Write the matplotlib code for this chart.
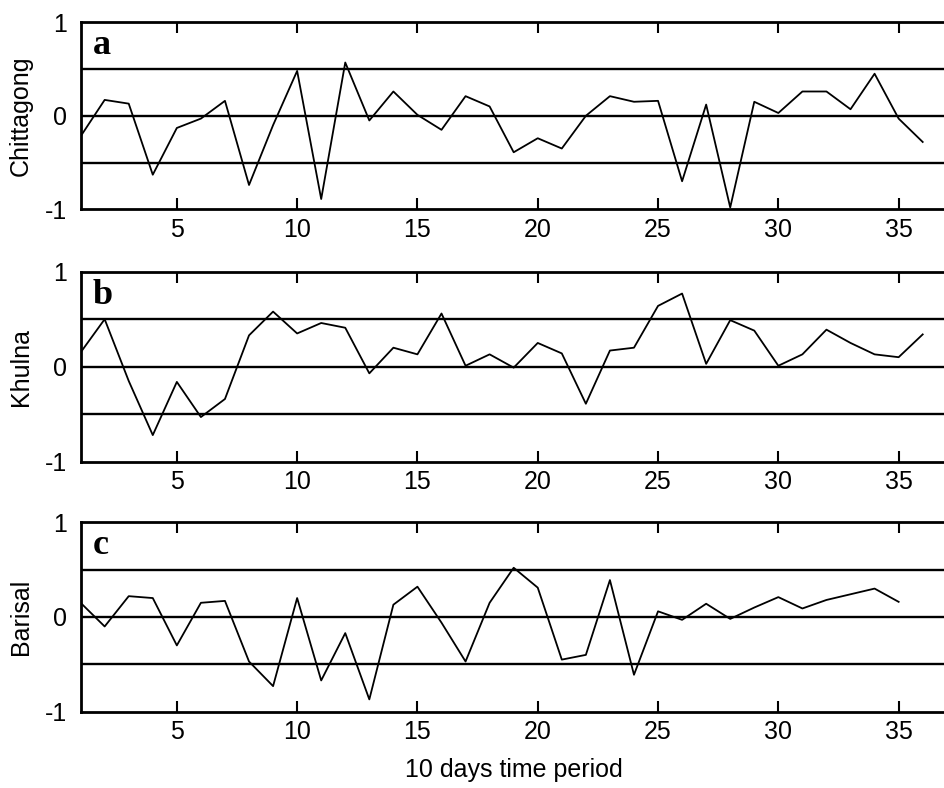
import matplotlib
matplotlib.use("Agg")
import matplotlib.pyplot as plt

periods_36 = list(range(1, 37))
periods_35 = list(range(1, 36))

chittagong = [-0.22, 0.17, 0.13, -0.63, -0.13, -0.03, 0.16, -0.74, -0.1, 0.48,
              -0.89, 0.57, -0.05, 0.26, 0.01, -0.15, 0.21, 0.1, -0.39, -0.24,
              -0.35, 0.0, 0.21, 0.15, 0.16, -0.7, 0.12, -0.98, 0.15, 0.03,
              0.26, 0.26, 0.07, 0.45, -0.03, -0.28]
khulna = [0.15, 0.5, -0.15, -0.72, -0.16, -0.53, -0.34, 0.33, 0.58, 0.35,
          0.46, 0.41, -0.07, 0.2, 0.13, 0.56, 0.01, 0.13, -0.01, 0.25,
          0.14, -0.39, 0.17, 0.2, 0.64, 0.77, 0.03, 0.49, 0.38, 0.01,
          0.13, 0.39, 0.25, 0.13, 0.1, 0.34]
barisal = [0.15, -0.1, 0.22, 0.2, -0.3, 0.15, 0.17, -0.47, -0.73, 0.2,
           -0.67, -0.17, -0.87, 0.13, 0.32, -0.06, -0.47, 0.15, 0.52, 0.31,
           -0.45, -0.4, 0.39, -0.61, 0.06, -0.03, 0.14, -0.02, 0.1, 0.21,
           0.09, 0.18, 0.24, 0.3, 0.16]

panels = [("a", "Chittagong", periods_36, chittagong),
          ("b", "Khulna", periods_36, khulna),
          ("c", "Barisal", periods_35, barisal)]
ref_levels = [-0.5, 0.0, 0.5]
xticks = [5, 10, 15, 20, 25, 30, 35]
yticks = [-1, 0, 1]
xlabel = "10 days time period"

plt.rcParams['font.family'] = ['Liberation Sans', 'DejaVu Sans']
plt.rcParams['axes.unicode_minus'] = False

fig = plt.figure(figsize=(9.45, 7.88), dpi=100)
W, H = 945.0, 788.0
left = 80.6 / W
width = 36 * 24.06 / W
boxes = [(22.3, 209.3), (271.7, 461.7), (522.3, 711.7)]

for (letter, name, xs, ys), (top, bot) in zip(panels, boxes):
    ax = fig.add_axes([left, 1 - bot / H, width, (bot - top) / H])
    for lv in ref_levels:
        ax.axhline(lv, color='black', lw=1.7, zorder=1)
    ax.plot(xs, ys, color='black', lw=1.3, zorder=2)
    ax.set_xlim(1, 37)
    ax.set_ylim(-1, 1)
    ax.set_xticks(xticks)
    ax.set_yticks(yticks)
    ax.tick_params(direction='in', top=True, right=True, length=8, width=1.5,
                   labelsize=18, pad=6)
    ax.tick_params(axis='y', length=0, pad=10)
    for s in ax.spines.values():
        s.set_linewidth(2)
    ax.set_ylabel(name, fontsize=18)
    ax.yaxis.set_label_coords(-0.055, 0.5)
    ax.text(0.014, 0.83, letter, transform=ax.transAxes, family='Liberation Serif',
            fontweight='bold', fontsize=26, va='baseline', ha='left')
    if letter == 'c':
        ax.set_xlabel(xlabel, fontsize=18, labelpad=10)

fig.savefig("out.png", dpi=100)
